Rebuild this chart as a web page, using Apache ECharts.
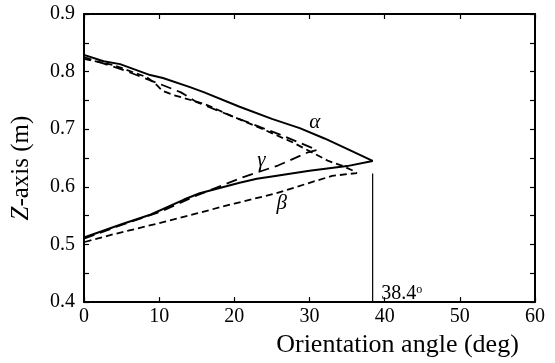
<!DOCTYPE html>
<html>
<head>
<meta charset="utf-8">
<script src="https://cdn.jsdelivr.net/npm/echarts@6/dist/echarts.min.js"></script>
<style>
  html, body { margin: 0; padding: 0; background: #fff; }
  #chart { width: 555px; height: 363px; }
</style>
</head>
<body>
<div id="chart"></div>
<script>
// solid loop: alpha (upper) out to the tip, beta (lower) back
const solidX = [0, 2.6, 4.8, 8.8, 10.5, 14.1, 16, 20.7, 25, 28.7, 32, 35, 38.4, 35, 30, 25, 23, 20.7, 15.4, 13.3, 8.9, 5, 0];
const solidY = [0.829, 0.818, 0.813, 0.794, 0.789, 0.773, 0.764, 0.739, 0.718, 0.702, 0.684, 0.666, 0.645, 0.636, 0.628, 0.618, 0.614, 0.607, 0.589, 0.578, 0.552, 0.535, 0.512];

// short-dashed loop
const dashX = [0, 4, 8.4, 9.5, 10.4, 12, 16, 20, 24, 27.8, 32.5, 34.3, 35.8, 36.3, 33, 30, 25.6, 20, 15, 10, 4, 0];
const dashY = [0.822, 0.811, 0.79, 0.779, 0.767, 0.759, 0.744, 0.721, 0.699, 0.677, 0.645, 0.637, 0.628, 0.624, 0.619, 0.607, 0.589, 0.571, 0.554, 0.537, 0.518, 0.504];

// long-dashed gamma loop
const gammaX = [0, 5, 10, 15, 21.2, 25.8, 29.8, 31, 26, 20, 15, 12.9, 10, 5, 0];
const gammaY = [0.51, 0.534, 0.556, 0.585, 0.617, 0.637, 0.66, 0.664, 0.691, 0.721, 0.747, 0.764, 0.779, 0.804, 0.825];

// vertical marker at the tip angle
const markX = [38.4, 38.4];
const markY = [0.4, 0.623];
const markText = '38.4';

// curve names placed next to the curves
const tagNames = ['α', 'γ', 'β'];
const tagX = [30.7, 23.6, 26.3];
const tagY = [0.711, 0.646, 0.572];

const xTicks = { min: 0, max: 60, interval: 10 };
const yTicks = { min: 0.4, max: 0.9, interval: 0.1 };

const pairs = (xs, ys) => xs.map((x, i) => [x, ys[i]]);

const font = 'Liberation Serif';
const chart = echarts.init(document.getElementById('chart'));

const frameLine = { show: true, onZero: false, lineStyle: { color: '#000', width: 2 } };
const tick = { show: true, inside: true, length: 5, lineStyle: { color: '#000', width: 1.2 } };
const minor = { show: true, splitNumber: 2, length: 5, lineStyle: { color: '#000', width: 1.2 } };
const tickRich = { t: { color: '#000', fontFamily: font, fontSize: 20 } };

chart.setOption({
  animation: false,
  backgroundColor: '#fff',
  textStyle: { fontFamily: font },
  grid: { left: 84, right: 20, top: 14, bottom: 55 },
  xAxis: [
    {
      type: 'value', position: 'bottom', ...xTicks,
      axisLine: frameLine, axisTick: tick, splitLine: { show: false },
      axisLabel: { color: '#000', fontFamily: font, fontSize: 20, margin: 5, formatter: v => '{t|' + v + '}', rich: tickRich },
      name: 'Orientation angle (deg)', nameLocation: 'middle', nameGap: 18,
      nameTextStyle: { color: '#000', fontFamily: font, fontSize: 26, padding: [0, 0, 0, 176] }
    },
    {
      type: 'value', position: 'top', ...xTicks,
      axisLine: frameLine, axisTick: tick, splitLine: { show: false },
      axisLabel: { show: false }
    }
  ],
  yAxis: [
    {
      type: 'value', position: 'left', ...yTicks,
      axisLine: frameLine, axisTick: tick, splitLine: { show: false }, minorTick: minor,
      axisLabel: { color: '#000', fontFamily: font, fontSize: 20, margin: 9, formatter: v => '{t|' + v.toFixed(1) + '}', rich: tickRich },
      name: '{i|Z}-axis (m)', nameLocation: 'middle', nameGap: 50,
      nameTextStyle: {
        color: '#000', fontFamily: font, fontSize: 25, padding: [0, 20, 0, 0],
        rich: { i: { fontStyle: 'italic', fontFamily: font, fontSize: 25, color: '#000' } }
      }
    },
    {
      type: 'value', position: 'right', ...yTicks,
      axisLine: frameLine, axisTick: tick, splitLine: { show: false }, minorTick: minor,
      axisLabel: { show: false }
    }
  ],
  series: [
    {
      type: 'line', data: pairs(solidX, solidY), symbol: 'none',
      lineStyle: { color: '#000', width: 2 }
    },
    {
      type: 'line', data: pairs(dashX, dashY), symbol: 'none',
      lineStyle: { color: '#000', width: 1.8, type: [7, 4] }
    },
    {
      type: 'line', data: pairs(gammaX, gammaY), symbol: 'none',
      lineStyle: { color: '#000', width: 1.8, type: [11, 6] }
    },
    {
      type: 'line', data: pairs(markX, markY), symbol: 'none',
      lineStyle: { color: '#000', width: 1.2 }
    },
    {
      type: 'scatter', symbolSize: 0, itemStyle: { color: 'transparent', opacity: 1 },
      data: [{ name: markText, value: [markX[0], markY[0]] }],
      label: {
        show: true, position: 'inside', offset: [29, -8],
        formatter: p => p.name + '{s|o}',
        color: '#000', fontFamily: font, fontSize: 20,
        rich: { s: { fontFamily: font, fontSize: 12, color: '#000', verticalAlign: 'top', padding: [0, 0, 8, 0] } }
      }
    },
    {
      type: 'scatter', symbolSize: 0, itemStyle: { color: 'transparent', opacity: 1 },
      data: tagNames.map((n, i) => ({ name: n, value: [tagX[i], tagY[i]] })),
      label: {
        show: true, position: 'inside', formatter: p => p.name,
        color: '#000', fontFamily: font, fontSize: 21, fontStyle: 'italic'
      }
    }
  ]
});
</script>
</body>
</html>
